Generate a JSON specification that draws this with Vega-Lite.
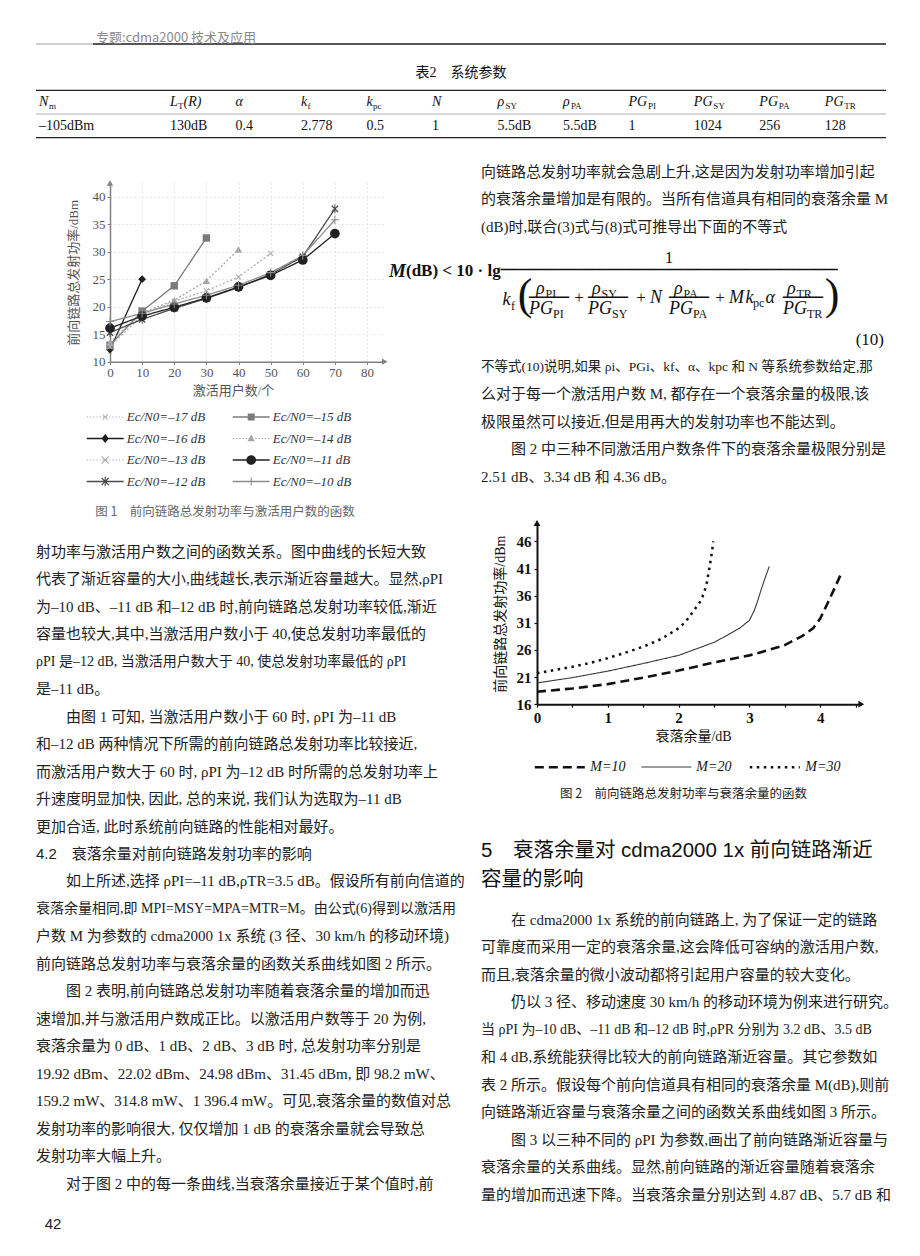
{
"$schema":"https://vega.github.io/schema/vega-lite/v6.json",
"background":"white",
"padding":{"left":35,"top":32,"right":0,"bottom":0},
"bounds":"flush",
"spacing":0,
"config":{
 "view":{"stroke":null},
 "axis":{"labelOverlap":false},
 "style":{
  "fi":{"font":"Liberation Serif","fontSize":18,"fontStyle":"italic","align":"left","baseline":"middle","color":"#111"},
  "fr":{"font":"Liberation Serif","fontSize":17,"align":"left","baseline":"middle","color":"#111"},
  "fc":{"font":"Liberation Serif","fontSize":17,"align":"center","baseline":"middle","color":"#111"},
  "fs":{"font":"Liberation Serif","fontSize":12,"align":"left","baseline":"middle","color":"#111"},
  "fbar":{"font":"DejaVu Sans Mono","align":"center","baseline":"middle","color":"#111"},
  "body":{"font":"Liberation Serif, Noto Sans CJK SC","fontSize":15,"align":"left","baseline":"middle","color":"#222"},
  "tight":{"font":"Liberation Serif, Noto Sans CJK SC","fontSize":14,"align":"left","baseline":"middle","color":"#222"},
  "tm":{"font":"Liberation Serif","fontSize":14,"fontStyle":"italic","align":"left","baseline":"middle","color":"#111"},
  "tv":{"font":"Liberation Serif","fontSize":14,"align":"left","baseline":"middle","color":"#111"},
  "ts":{"font":"Liberation Serif","fontSize":9,"align":"left","baseline":"middle","color":"#111","dy":4}
 }
},
"datasets":{
 "tbl":[
  {"col":"Nm","row":1,"main":"N","sub":"m"},
  {"col":"LT","row":1,"main":"L","sub":"T","tail":"(R)"},
  {"col":"alpha","row":1,"main":"α"},
  {"col":"kf","row":1,"main":"k","sub":"f"},
  {"col":"kpc","row":1,"main":"k","sub":"pc"},
  {"col":"N","row":1,"main":"N"},
  {"col":"rSY","row":1,"main":"ρ","sub":"SY"},
  {"col":"rPA","row":1,"main":"ρ","sub":"PA"},
  {"col":"PGPI","row":1,"main":"PG","sub":"PI"},
  {"col":"PGSY","row":1,"main":"PG","sub":"SY"},
  {"col":"PGPA","row":1,"main":"PG","sub":"PA"},
  {"col":"PGTR","row":1,"main":"PG","sub":"TR"},
  {"col":"Nm","row":2,"main":"–105dBm"},
  {"col":"LT","row":2,"main":"130dB"},
  {"col":"alpha","row":2,"main":"0.4"},
  {"col":"kf","row":2,"main":"2.778"},
  {"col":"kpc","row":2,"main":"0.5"},
  {"col":"N","row":2,"main":"1"},
  {"col":"rSY","row":2,"main":"5.5dB"},
  {"col":"rPA","row":2,"main":"5.5dB"},
  {"col":"PGPI","row":2,"main":"1"},
  {"col":"PGSY","row":2,"main":"1024"},
  {"col":"PGPA","row":2,"main":"256"},
  {"col":"PGTR","row":2,"main":"128"}
 ],
 "f1":[
  {"s":"Ec/N0=–17 dB","x":0,"y":11.8},
  {"s":"Ec/N0=–16 dB","x":0,"y":12.2},{"s":"Ec/N0=–16 dB","x":10,"y":25.0},
  {"s":"Ec/N0=–15 dB","x":0,"y":13.0},{"s":"Ec/N0=–15 dB","x":10,"y":19.2},{"s":"Ec/N0=–15 dB","x":20,"y":23.8},{"s":"Ec/N0=–15 dB","x":30,"y":32.5},
  {"s":"Ec/N0=–14 dB","x":0,"y":13.5},{"s":"Ec/N0=–14 dB","x":10,"y":18.9},{"s":"Ec/N0=–14 dB","x":20,"y":21.2},{"s":"Ec/N0=–14 dB","x":30,"y":24.7},{"s":"Ec/N0=–14 dB","x":40,"y":30.4},
  {"s":"Ec/N0=–13 dB","x":0,"y":12.7},{"s":"Ec/N0=–13 dB","x":10,"y":18.5},{"s":"Ec/N0=–13 dB","x":20,"y":21.0},{"s":"Ec/N0=–13 dB","x":30,"y":22.9},{"s":"Ec/N0=–13 dB","x":40,"y":25.4},{"s":"Ec/N0=–13 dB","x":50,"y":29.7},
  {"s":"Ec/N0=–12 dB","x":0,"y":15.3},{"s":"Ec/N0=–12 dB","x":10,"y":17.7},{"s":"Ec/N0=–12 dB","x":20,"y":19.7},{"s":"Ec/N0=–12 dB","x":30,"y":21.5},{"s":"Ec/N0=–12 dB","x":40,"y":23.5},{"s":"Ec/N0=–12 dB","x":50,"y":25.9},{"s":"Ec/N0=–12 dB","x":60,"y":29.1},{"s":"Ec/N0=–12 dB","x":70,"y":37.8},
  {"s":"Ec/N0=–11 dB","x":0,"y":16.1},{"s":"Ec/N0=–11 dB","x":10,"y":18.3},{"s":"Ec/N0=–11 dB","x":20,"y":19.9},{"s":"Ec/N0=–11 dB","x":30,"y":21.6},{"s":"Ec/N0=–11 dB","x":40,"y":23.6},{"s":"Ec/N0=–11 dB","x":50,"y":25.7},{"s":"Ec/N0=–11 dB","x":60,"y":28.5},{"s":"Ec/N0=–11 dB","x":70,"y":33.3},
  {"s":"Ec/N0=–10 dB","x":0,"y":17.3},{"s":"Ec/N0=–10 dB","x":10,"y":18.8},{"s":"Ec/N0=–10 dB","x":20,"y":20.5},{"s":"Ec/N0=–10 dB","x":30,"y":22.1},{"s":"Ec/N0=–10 dB","x":40,"y":23.9},{"s":"Ec/N0=–10 dB","x":50,"y":26.2},{"s":"Ec/N0=–10 dB","x":60,"y":29.3},{"s":"Ec/N0=–10 dB","x":70,"y":35.8}
 ],
 "f1s":[{"s":"Ec/N0=–17 dB"},{"s":"Ec/N0=–16 dB"},{"s":"Ec/N0=–13 dB"},{"s":"Ec/N0=–12 dB"},{"s":"Ec/N0=–15 dB"},{"s":"Ec/N0=–14 dB"},{"s":"Ec/N0=–11 dB"},{"s":"Ec/N0=–10 dB"}],
 "f2":[
  {"m":"M=10","x":0,"y":18.3},{"m":"M=10","x":0.5,"y":18.9},{"m":"M=10","x":1,"y":19.7},{"m":"M=10","x":1.5,"y":20.9},{"m":"M=10","x":2,"y":22.2},{"m":"M=10","x":2.5,"y":23.7},{"m":"M=10","x":3,"y":25.0},{"m":"M=10","x":3.25,"y":25.9},{"m":"M=10","x":3.5,"y":26.9},{"m":"M=10","x":3.75,"y":28.6},{"m":"M=10","x":3.9,"y":30.0},{"m":"M=10","x":4.0,"y":31.8},{"m":"M=10","x":4.1,"y":34.5},{"m":"M=10","x":4.2,"y":37.3},{"m":"M=10","x":4.29,"y":39.9},
  {"m":"M=20","x":0,"y":19.92},{"m":"M=20","x":0.5,"y":20.9},{"m":"M=20","x":1,"y":22.1},{"m":"M=20","x":1.5,"y":23.5},{"m":"M=20","x":2,"y":25.0},{"m":"M=20","x":2.5,"y":27.4},{"m":"M=20","x":2.7,"y":28.8},{"m":"M=20","x":2.86,"y":30.0},{"m":"M=20","x":3,"y":31.45},{"m":"M=20","x":3.07,"y":33.3},{"m":"M=20","x":3.12,"y":35.2},{"m":"M=20","x":3.17,"y":37.3},{"m":"M=20","x":3.22,"y":39.2},{"m":"M=20","x":3.28,"y":41.4},
  {"m":"M=30","x":0,"y":21.7},{"m":"M=30","x":0.25,"y":22.3},{"m":"M=30","x":0.5,"y":22.9},{"m":"M=30","x":0.75,"y":23.6},{"m":"M=30","x":1,"y":24.5},{"m":"M=30","x":1.25,"y":25.5},{"m":"M=30","x":1.5,"y":26.6},{"m":"M=30","x":1.75,"y":28.0},{"m":"M=30","x":2,"y":30.0},{"m":"M=30","x":2.1,"y":31.2},{"m":"M=30","x":2.2,"y":33.0},{"m":"M=30","x":2.3,"y":34.8},{"m":"M=30","x":2.36,"y":36.5},{"m":"M=30","x":2.4,"y":38.5},{"m":"M=30","x":2.44,"y":41.5},{"m":"M=30","x":2.47,"y":44.0},{"m":"M=30","x":2.49,"y":46.0}
 ]
},
"vconcat":[
 {"hconcat":[
   {"width":57,"height":12,"data":{"values":[{}]},"mark":{"type":"rule","color":"#888","strokeWidth":0.8},"encoding":{"y":{"datum":0,"type":"quantitative","scale":{"domain":[0,1]},"axis":null}}},
   {"width":793,"height":12,"data":{"values":[{"t":"专题:cdma2000 技术及应用"}]},"layer":[
     {"mark":{"type":"rule","color":"#555","strokeWidth":2.2},"encoding":{"y":{"datum":0,"type":"quantitative","scale":{"domain":[0,1]},"axis":null}}},
     {"mark":{"type":"text","align":"left","baseline":"middle","dx":3,"font":"Noto Sans CJK SC","fontSize":13,"color":"#8a8a8a"},"encoding":{"x":{"datum":0,"type":"quantitative","scale":{"domain":[0,1]},"axis":null},"text":{"field":"t"}}}
   ]}
 ],"spacing":0,"bounds":"flush"},
 {"width":1,"height":56,"data":{"values":[]},"mark":"point"},
 {"width":850,"height":52,
  "title":{"text":"表2　系统参数","font":"Liberation Serif, Noto Sans CJK SC","fontSize":14,"fontWeight":"normal","color":"#111","baseline":"middle","offset":1,"anchor":"middle"},
  "layer":[
   {"data":{"values":[{}]},"mark":{"type":"rule","color":"#222","strokeWidth":1.4},"encoding":{"y":{"datum":0.5,"type":"quantitative","scale":{"domain":[0.5,2.5],"reverse":true},"axis":null}}},
   {"data":{"values":[{}]},"mark":{"type":"rule","color":"#999","strokeWidth":0.8},"encoding":{"y":{"datum":1.5,"type":"quantitative","axis":null}}},
   {"data":{"values":[{}]},"mark":{"type":"rule","color":"#222","strokeWidth":1.4},"encoding":{"y":{"datum":2.5,"type":"quantitative","axis":null}}},
   {"data":{"name":"tbl"},
    "encoding":{
     "x":{"field":"col","type":"nominal","scale":{"type":"point","domain":["Nm","gap","LT","alpha","kf","kpc","N","rSY","rPA","PGPI","PGSY","PGPA","PGTR"],"padding":0.49,"align":0.047},"axis":null},
     "y":{"field":"row","type":"quantitative","axis":null}},
    "layer":[
     {"transform":[{"filter":"datum.row==1"}],"mark":{"type":"text","style":"tm"},"encoding":{"text":{"field":"main"}}},
     {"transform":[{"filter":"datum.row==2"}],"mark":{"type":"text","style":"tv"},"encoding":{"text":{"field":"main"}}},
     {"transform":[{"filter":"datum.row==1 && datum.sub && datum.main=='N'"}],"mark":{"type":"text","style":"ts","dx":10},"encoding":{"text":{"field":"sub"}}},
     {"transform":[{"filter":"datum.row==1 && datum.sub && datum.main=='L'"}],"mark":{"type":"text","style":"ts","dx":8},"encoding":{"text":{"field":"sub"}}},
     {"transform":[{"filter":"datum.row==1 && datum.sub && datum.main=='k'"}],"mark":{"type":"text","style":"ts","dx":6.5},"encoding":{"text":{"field":"sub"}}},
     {"transform":[{"filter":"datum.row==1 && datum.sub && datum.main=='ρ'"}],"mark":{"type":"text","style":"ts","dx":8},"encoding":{"text":{"field":"sub"}}},
     {"transform":[{"filter":"datum.row==1 && datum.sub && datum.main=='PG'"}],"mark":{"type":"text","style":"ts","dx":19.5},"encoding":{"text":{"field":"sub"}}},
     {"transform":[{"filter":"datum.row==1 && datum.tail"}],"mark":{"type":"text","style":"tm","dx":13.5},"encoding":{"text":{"field":"tail"}}}
    ]}
  ]},
 {"width":1,"height":18,"data":{"values":[]},"mark":"point"},
 {"hconcat":[
  {"vconcat":[
   {"width":1,"height":25,"data":{"values":[]},"mark":"point"},
   {"hconcat":[
     {"width":73.3,"height":1,"data":{"values":[]},"mark":"point"},
     {"width":274.7,"height":178.7,
      "resolve":{"scale":{"color":"independent","shape":"independent","strokeDash":"independent","size":"independent"}},
      "encoding":{
        "x":{"type":"quantitative","scale":{"domain":[0,85.5],"nice":false,"zero":false},"axis":{"values":[0,10,20,30,40,50,60,70,80],"labelOverlap":false,"title":"激活用户数/个","titleX":123,"labelFlush":false,"grid":true,"gridColor":"#c4c4c4","gridDash":[1,3],"gridWidth":0.8,"domainColor":"#808080","domainWidth":1.5,"tickColor":"#808080","tickSize":3,"labelFont":"Liberation Serif","labelFontSize":13,"labelColor":"#555","labelPadding":2,"titleFont":"Liberation Serif, Noto Sans CJK SC","titleFontSize":13,"titleFontWeight":"normal","titleColor":"#555","titlePadding":5}},
        "y":{"type":"quantitative","scale":{"domain":[10,42.5],"nice":false,"zero":false},"axis":{"values":[10,15,20,25,30,35,40],"labelOverlap":false,"title":"前向链路总发射功率/dBm","grid":true,"gridColor":"#c4c4c4","gridDash":[1,3],"gridWidth":0.8,"domainColor":"#808080","domainWidth":1.5,"tickColor":"#808080","tickSize":3,"labelFont":"Liberation Serif","labelFontSize":13,"labelColor":"#555","labelPadding":2,"titleFont":"Liberation Serif, Noto Sans CJK SC","titleFontSize":13,"titleFontWeight":"normal","titleColor":"#555","titlePadding":12}}
      },
      "layer":[
       {"data":{"name":"f1"},"mark":{"type":"line","strokeWidth":1.3},
        "encoding":{
         "x":{"field":"x"},
         "y":{"field":"y"},
         "color":{"field":"s","type":"nominal","scale":{"domain":["Ec/N0=–17 dB","Ec/N0=–16 dB","Ec/N0=–13 dB","Ec/N0=–12 dB","Ec/N0=–15 dB","Ec/N0=–14 dB","Ec/N0=–11 dB","Ec/N0=–10 dB"],"range":["#b4b4b4","#1e1e1e","#b0b0b0","#4a4a4a","#7a7a7a","#a6a6a6","#222222","#8c8c8c"]},"legend":null},
         "strokeDash":{"field":"s","type":"nominal","scale":{"domain":["Ec/N0=–17 dB","Ec/N0=–16 dB","Ec/N0=–13 dB","Ec/N0=–12 dB","Ec/N0=–15 dB","Ec/N0=–14 dB","Ec/N0=–11 dB","Ec/N0=–10 dB"],"range":[[2,2],[1,0],[2,2],[1,0],[1,0],[2,2],[1,0],[1,0]]},"legend":null}
        }},
       {"data":{"name":"f1"},"mark":{"type":"point","filled":true,"opacity":1},
        "encoding":{
         "x":{"field":"x"},
         "y":{"field":"y"},
         "color":{"field":"s","type":"nominal","scale":{"domain":["Ec/N0=–17 dB","Ec/N0=–16 dB","Ec/N0=–13 dB","Ec/N0=–12 dB","Ec/N0=–15 dB","Ec/N0=–14 dB","Ec/N0=–11 dB","Ec/N0=–10 dB"],"range":["#b4b4b4","#1e1e1e","#b0b0b0","#4a4a4a","#7a7a7a","#a6a6a6","#222222","#8c8c8c"]},"legend":null},
         "shape":{"field":"s","type":"nominal","scale":{"domain":["Ec/N0=–17 dB","Ec/N0=–16 dB","Ec/N0=–13 dB","Ec/N0=–12 dB","Ec/N0=–15 dB","Ec/N0=–14 dB","Ec/N0=–11 dB","Ec/N0=–10 dB"],"range":["M-0.8,-0.6L-0.6,-0.8L0.8,0.6L0.6,0.8Z M-0.8,0.6L0.6,-0.8L0.8,-0.6L-0.6,0.8Z","diamond","M-0.8,-0.6L-0.6,-0.8L0.8,0.6L0.6,0.8Z M-0.8,0.6L0.6,-0.8L0.8,-0.6L-0.6,0.8Z","M-0.8,-0.6L-0.6,-0.8L0.8,0.6L0.6,0.8Z M-0.8,0.6L0.6,-0.8L0.8,-0.6L-0.6,0.8Z M-0.1,-1H0.1V1H-0.1Z","square","triangle-up","circle","M-0.12,-1H0.12V1H-0.12Z M-1,-0.12H1V0.12H-1Z"]},"legend":null},
         "size":{"field":"s","type":"nominal","scale":{"type":"ordinal","domain":["Ec/N0=–17 dB","Ec/N0=–16 dB","Ec/N0=–13 dB","Ec/N0=–12 dB","Ec/N0=–15 dB","Ec/N0=–14 dB","Ec/N0=–11 dB","Ec/N0=–10 dB"],"range":[30,60,55,80,55,55,95,70]},"legend":null}
        }},
       {"data":{"values":[{}]},"mark":{"type":"point","shape":"triangle-up","filled":true,"size":40,"color":"#808080","opacity":1},"encoding":{"x":{"datum":0},"y":{"datum":42.5}}},
       {"data":{"values":[{}]},"mark":{"type":"point","shape":"triangle-right","filled":true,"size":40,"color":"#808080","opacity":1},"encoding":{"x":{"datum":85.5},"y":{"datum":10}}},
       {"data":{"name":"f1s"},"mark":{"type":"point","filled":true,"opacity":0},
        "encoding":{
         "x":{"datum":40},
         "y":{"datum":26},
         "color":{"field":"s","type":"nominal","scale":{"domain":["Ec/N0=–17 dB","Ec/N0=–16 dB","Ec/N0=–13 dB","Ec/N0=–12 dB","Ec/N0=–15 dB","Ec/N0=–14 dB","Ec/N0=–11 dB","Ec/N0=–10 dB"],"range":["#b4b4b4","#1e1e1e","#b0b0b0","#4a4a4a","#7a7a7a","#a6a6a6","#222222","#8c8c8c"]},
          "legend":{"orient":"none","legendX":-11.8,"legendY":227,"columns":2,"title":null,"symbolSize":196,"symbolStrokeWidth":0,"symbolOpacity":1,"labelFont":"Liberation Serif","labelFontStyle":"italic","labelFontSize":13,"labelColor":"#333","labelOffset":14.5,"columnPadding":27,"rowPadding":7.5,"padding":0}},
         "shape":{"field":"s","type":"nominal","scale":{"domain":["Ec/N0=–17 dB","Ec/N0=–16 dB","Ec/N0=–13 dB","Ec/N0=–12 dB","Ec/N0=–15 dB","Ec/N0=–14 dB","Ec/N0=–11 dB","Ec/N0=–10 dB"],"range":[
           "M-2.64,-0.08h0.2v0.16h-0.2Z M-2.18,-0.08h0.2v0.16h-0.2Z M-1.73,-0.08h0.2v0.16h-0.2Z M-1.27,-0.08h0.2v0.16h-0.2Z M-0.81,-0.08h0.2v0.16h-0.2Z M-0.36,-0.08h0.2v0.16h-0.2Z M0.1,-0.08h0.2v0.16h-0.2Z M0.56,-0.08h0.2v0.16h-0.2Z M1.02,-0.08h0.2v0.16h-0.2Z M1.47,-0.08h0.2v0.16h-0.2Z M1.93,-0.08h0.2v0.16h-0.2Z M2.39,-0.08h0.2v0.16h-0.2Z M-0.42,-0.32L-0.32,-0.42L0.42,0.32L0.32,0.42Z M-0.42,0.32L0.32,-0.42L0.42,-0.32L-0.32,0.42Z",
           "M-2.64,-0.09H2.64V0.09H-2.64Z M0,-0.63L0.53,0L0,0.63L-0.53,0Z",
           "M-2.64,-0.08h0.2v0.16h-0.2Z M-2.18,-0.08h0.2v0.16h-0.2Z M-1.73,-0.08h0.2v0.16h-0.2Z M-1.27,-0.08h0.2v0.16h-0.2Z M-0.81,-0.08h0.2v0.16h-0.2Z M-0.36,-0.08h0.2v0.16h-0.2Z M0.1,-0.08h0.2v0.16h-0.2Z M0.56,-0.08h0.2v0.16h-0.2Z M1.02,-0.08h0.2v0.16h-0.2Z M1.47,-0.08h0.2v0.16h-0.2Z M1.93,-0.08h0.2v0.16h-0.2Z M2.39,-0.08h0.2v0.16h-0.2Z M-0.58,-0.45L-0.45,-0.58L0.58,0.45L0.45,0.58Z M-0.58,0.45L0.45,-0.58L0.58,-0.45L-0.45,0.58Z",
           "M-2.64,-0.09H2.64V0.09H-2.64Z M-0.58,-0.45L-0.45,-0.58L0.58,0.45L0.45,0.58Z M-0.58,0.45L0.45,-0.58L0.58,-0.45L-0.45,0.58Z M-0.08,-0.69H0.08V0.69H-0.08Z",
           "M-2.64,-0.09H2.64V0.09H-2.64Z M-0.5,-0.5H0.5V0.5H-0.5Z",
           "M-2.64,-0.08h0.2v0.16h-0.2Z M-2.18,-0.08h0.2v0.16h-0.2Z M-1.73,-0.08h0.2v0.16h-0.2Z M-1.27,-0.08h0.2v0.16h-0.2Z M-0.81,-0.08h0.2v0.16h-0.2Z M-0.36,-0.08h0.2v0.16h-0.2Z M0.1,-0.08h0.2v0.16h-0.2Z M0.56,-0.08h0.2v0.16h-0.2Z M1.02,-0.08h0.2v0.16h-0.2Z M1.47,-0.08h0.2v0.16h-0.2Z M1.93,-0.08h0.2v0.16h-0.2Z M2.39,-0.08h0.2v0.16h-0.2Z M0,-0.58L0.53,0.4H-0.53Z",
           "M-2.64,-0.09H2.64V0.09H-2.64Z M-0.69,0A0.69,0.69,0,1,1,0.69,0A0.69,0.69,0,1,1,-0.69,0Z",
           "M-2.64,-0.09H2.64V0.09H-2.64Z M-0.08,-0.58H0.08V0.58H-0.08Z M-0.58,-0.09H0.58V0.09H-0.58Z"]},
          "legend":{"orient":"none","legendX":-11.8,"legendY":227,"columns":2,"title":null,"symbolSize":196,"symbolStrokeWidth":0,"symbolOpacity":1,"labelFont":"Liberation Serif","labelFontStyle":"italic","labelFontSize":13,"labelColor":"#333","labelOffset":14.5,"columnPadding":27,"rowPadding":7.5,"padding":0}}
        }}
      ]}
   ],"spacing":0,"bounds":"flush"},
   {"width":1,"height":317,"data":{"values":[]},"mark":"point"},
   {"width":378,"height":24,"data":{"values":[{"t":"图 1　前向链路总发射功率与激活用户数的函数"}]},"mark":{"type":"text","font":"Noto Sans CJK SC","fontSize":12.5,"color":"#666"},"encoding":{"text":{"field":"t"}}},
   {"width":1,"height":13.3,"data":{"values":[]},"mark":"point"},
   {"width":410,"height":659.5,
    "data":{"values":[
     {"line":1,"t":"射功率与激活用户数之间的函数关系。图中曲线的长短大致"},
     {"line":2,"t":"代表了渐近容量的大小,曲线越长,表示渐近容量越大。显然,ρPI"},
     {"line":3,"t":"为–10 dB、–11 dB 和–12 dB 时,前向链路总发射功率较低,渐近"},
     {"line":4,"t":"容量也较大,其中,当激活用户数小于 40,使总发射功率最低的"},
     {"line":5,"t":"ρPI 是–12 dB, 当激活用户数大于 40, 使总发射功率最低的 ρPI"},
     {"line":6,"t":"是–11 dB。"},
     {"line":7,"t":"由图 1 可知, 当激活用户数小于 60 时, ρPI 为–11 dB"},
     {"line":8,"t":"和–12 dB 两种情况下所需的前向链路总发射功率比较接近,"},
     {"line":9,"t":"而激活用户数大于 60 时, ρPI 为–12 dB 时所需的总发射功率上"},
     {"line":10,"t":"升速度明显加快, 因此, 总的来说, 我们认为选取为–11 dB"},
     {"line":11,"t":"更加合适, 此时系统前向链路的性能相对最好。"},
     {"line":12,"t":"4.2　衰落余量对前向链路发射功率的影响"},
     {"line":13,"t":"如上所述,选择 ρPI=–11 dB,ρTR=3.5 dB。假设所有前向信道的"},
     {"line":14,"t":"衰落余量相同,即 MPI=MSY=MPA=MTR=M。由公式(6)得到以激活用"},
     {"line":15,"t":"户数 M 为参数的 cdma2000 1x 系统 (3 径、30 km/h 的移动环境)"},
     {"line":16,"t":"前向链路总发射功率与衰落余量的函数关系曲线如图 2 所示。"},
     {"line":17,"t":"图 2 表明,前向链路总发射功率随着衰落余量的增加而迅"},
     {"line":18,"t":"速增加,并与激活用户数成正比。以激活用户数等于 20 为例,"},
     {"line":19,"t":"衰落余量为 0 dB、1 dB、2 dB、3 dB 时, 总发射功率分别是"},
     {"line":20,"t":"19.92 dBm、22.02 dBm、24.98 dBm、31.45 dBm, 即 98.2 mW、"},
     {"line":21,"t":"159.2 mW、314.8 mW、1 396.4 mW。可见,衰落余量的数值对总"},
     {"line":22,"t":"发射功率的影响很大, 仅仅增加 1 dB 的衰落余量就会导致总"},
     {"line":23,"t":"发射功率大幅上升。"},
     {"line":24,"t":"对于图 2 中的每一条曲线,当衰落余量接近于某个值时,前"}
    ]},
    "encoding":{
     "x":{"datum":0,"type":"quantitative","scale":{"domain":[0,1]},"axis":null},
     "y":{"field":"line","type":"ordinal","scale":{"type":"point","padding":0.5},"axis":null},
     "text":{"field":"t"}},
    "layer":[
     {"transform":[{"filter":"indexof([5,7,12,13,14,17,24], datum.line) < 0"}],"mark":{"type":"text","style":"body"}},
     {"transform":[{"filter":"indexof([7,13,17,24], datum.line) >= 0"}],"mark":{"type":"text","style":"body","dx":30}},
     {"transform":[{"filter":"datum.line == 5 || datum.line == 14"}],"mark":{"type":"text","style":"tight"}},
     {"transform":[{"filter":"datum.line == 12"}],"mark":{"type":"text","style":"body","font":"Liberation Sans, Noto Sans CJK SC"}}
    ]},
   {"width":1,"height":16.2,"data":{"values":[]},"mark":"point"},
   {"width":34,"height":18,"data":{"values":[{"t":"42"}]},"mark":{"type":"text","font":"Liberation Sans","fontSize":15,"color":"#222"},"encoding":{"text":{"field":"t"}}}
  ],"spacing":0,"bounds":"flush"},
  {"vconcat":[
   {"width":405,"height":82.5,
    "data":{"values":[
     {"line":1,"t":"向链路总发射功率就会急剧上升,这是因为发射功率增加引起"},
     {"line":2,"t":"的衰落余量增加是有限的。当所有信道具有相同的衰落余量 M"},
     {"line":3,"t":"(dB)时,联合(3)式与(8)式可推导出下面的不等式"}
    ]},
    "mark":{"type":"text","style":"body"},
    "encoding":{
     "x":{"datum":0,"type":"quantitative","scale":{"domain":[0,1]},"axis":null},
     "y":{"field":"line","type":"ordinal","scale":{"type":"point","padding":0.5},"axis":null},
     "text":{"field":"t"}}},
   {"width":405,"height":111.75,
    "layer":[
     {"data":{"values":[{"t":"M"}]},"mark":{"type":"text","style":"fi","fontSize":19,"fontWeight":"bold","dx":-294.5,"dy":-25.4},"encoding":{"text":{"field":"t"}}},
     {"data":{"values":[{"t":"(dB) < 10 · lg"}]},"mark":{"type":"text","style":"fr","fontWeight":"bold","dx":-277.5,"dy":-25.4},"encoding":{"text":{"field":"t"}}},
     {"data":{"values":[{"t":"1"}]},"mark":{"type":"text","style":"fc","dx":-14.5,"dy":-38.4},"encoding":{"text":{"field":"t"}}},
     {"data":{"values":[{"t":"───────────────────────────────────"}]},"mark":{"type":"text","style":"fbar","fontSize":16,"dx":-14.5,"dy":-26.4},"encoding":{"text":{"field":"t"}}},
     {"data":{"values":[{"t":"k"}]},"mark":{"type":"text","style":"fi","dx":-181,"dy":3.6},"encoding":{"text":{"field":"t"}}},
     {"data":{"values":[{"t":"f"}]},"mark":{"type":"text","style":"fs","dx":-172.5,"dy":9.6},"encoding":{"text":{"field":"t"}}},
     {"data":{"values":[{"t":"("}]},"mark":{"type":"text","style":"fc","fontSize":44,"dx":-158.5,"dy":-0.4},"encoding":{"text":{"field":"t"}}},
     {"data":{"values":[{"t":")"}]},"mark":{"type":"text","style":"fc","fontSize":44,"dx":148.5,"dy":-0.4},"encoding":{"text":{"field":"t"}}},
     {"data":{"values":[{"t":"ρ"}]},"mark":{"type":"text","style":"fi","dx":-147.5,"dy":-7.4},"encoding":{"text":{"field":"t"}}},
     {"data":{"values":[{"t":"PI"}]},"mark":{"type":"text","style":"fs","dx":-138,"dy":-2.4},"encoding":{"text":{"field":"t"}}},
     {"data":{"values":[{"t":"ρ"}]},"mark":{"type":"text","style":"fi","dx":-91.5,"dy":-7.4},"encoding":{"text":{"field":"t"}}},
     {"data":{"values":[{"t":"SY"}]},"mark":{"type":"text","style":"fs","dx":-82,"dy":-2.4},"encoding":{"text":{"field":"t"}}},
     {"data":{"values":[{"t":"ρ"}]},"mark":{"type":"text","style":"fi","dx":-9.5,"dy":-7.4},"encoding":{"text":{"field":"t"}}},
     {"data":{"values":[{"t":"PA"}]},"mark":{"type":"text","style":"fs","dx":0,"dy":-2.4},"encoding":{"text":{"field":"t"}}},
     {"data":{"values":[{"t":"ρ"}]},"mark":{"type":"text","style":"fi","dx":103.5,"dy":-7.4},"encoding":{"text":{"field":"t"}}},
     {"data":{"values":[{"t":"TR"}]},"mark":{"type":"text","style":"fs","dx":113,"dy":-2.4},"encoding":{"text":{"field":"t"}}},
     {"data":{"values":[{"t":"────"}]},"mark":{"type":"text","style":"fbar","fontSize":16.6,"dx":-134.5,"dy":1.1},"encoding":{"text":{"field":"t"}}},
     {"data":{"values":[{"t":"────"}]},"mark":{"type":"text","style":"fbar","fontSize":16.6,"dx":-75.5,"dy":1.1},"encoding":{"text":{"field":"t"}}},
     {"data":{"values":[{"t":"────"}]},"mark":{"type":"text","style":"fbar","fontSize":16.6,"dx":5.5,"dy":1.1},"encoding":{"text":{"field":"t"}}},
     {"data":{"values":[{"t":"────"}]},"mark":{"type":"text","style":"fbar","fontSize":16.6,"dx":119.5,"dy":1.1},"encoding":{"text":{"field":"t"}}},
     {"data":{"values":[{"t":"PG"}]},"mark":{"type":"text","style":"fi","dx":-154.5,"dy":12.6},"encoding":{"text":{"field":"t"}}},
     {"data":{"values":[{"t":"PI"}]},"mark":{"type":"text","style":"fs","dx":-130.5,"dy":17.6},"encoding":{"text":{"field":"t"}}},
     {"data":{"values":[{"t":"PG"}]},"mark":{"type":"text","style":"fi","dx":-95.5,"dy":12.6},"encoding":{"text":{"field":"t"}}},
     {"data":{"values":[{"t":"SY"}]},"mark":{"type":"text","style":"fs","dx":-71.5,"dy":17.6},"encoding":{"text":{"field":"t"}}},
     {"data":{"values":[{"t":"PG"}]},"mark":{"type":"text","style":"fi","dx":-14.5,"dy":12.6},"encoding":{"text":{"field":"t"}}},
     {"data":{"values":[{"t":"PA"}]},"mark":{"type":"text","style":"fs","dx":9.5,"dy":17.6},"encoding":{"text":{"field":"t"}}},
     {"data":{"values":[{"t":"PG"}]},"mark":{"type":"text","style":"fi","dx":99.5,"dy":12.6},"encoding":{"text":{"field":"t"}}},
     {"data":{"values":[{"t":"TR"}]},"mark":{"type":"text","style":"fs","dx":123.5,"dy":17.6},"encoding":{"text":{"field":"t"}}},
     {"data":{"values":[{"t":"+"}]},"mark":{"type":"text","style":"fc","dx":-104.5,"dy":1.6},"encoding":{"text":{"field":"t"}}},
     {"data":{"values":[{"t":"+"}]},"mark":{"type":"text","style":"fc","dx":-42.5,"dy":1.6},"encoding":{"text":{"field":"t"}}},
     {"data":{"values":[{"t":"N"}]},"mark":{"type":"text","style":"fi","dx":-33.5,"dy":1.6},"encoding":{"text":{"field":"t"}}},
     {"data":{"values":[{"t":"+"}]},"mark":{"type":"text","style":"fc","dx":36.5,"dy":1.6},"encoding":{"text":{"field":"t"}}},
     {"data":{"values":[{"t":"M"}]},"mark":{"type":"text","style":"fi","dx":45.5,"dy":1.6},"encoding":{"text":{"field":"t"}}},
     {"data":{"values":[{"t":"k"}]},"mark":{"type":"text","style":"fi","dx":62,"dy":1.6},"encoding":{"text":{"field":"t"}}},
     {"data":{"values":[{"t":"pc"}]},"mark":{"type":"text","style":"fs","dx":69.5,"dy":6.6},"encoding":{"text":{"field":"t"}}},
     {"data":{"values":[{"t":"α"}]},"mark":{"type":"text","style":"fi","dx":82,"dy":1.6},"encoding":{"text":{"field":"t"}}},
     {"data":{"values":[{"t":"(10)"}]},"mark":{"type":"text","style":"fr","align":"right","dx":200.5,"dy":43.6},"encoding":{"text":{"field":"t"}}}
    ]},
   {"width":405,"height":137.5,
    "data":{"values":[
     {"line":1,"t":"不等式(10)说明,如果 ρi、PGi、kf、α、kpc 和 N 等系统参数给定,那"},
     {"line":2,"t":"么对于每一个激活用户数 M, 都存在一个衰落余量的极限,该"},
     {"line":3,"t":"极限虽然可以接近,但是用再大的发射功率也不能达到。"},
     {"line":4,"t":"图 2 中三种不同激活用户数条件下的衰落余量极限分别是"},
     {"line":5,"t":"2.51 dB、3.34 dB 和 4.36 dB。"}
    ]},
    "encoding":{
     "x":{"datum":0,"type":"quantitative","scale":{"domain":[0,1]},"axis":null},
     "y":{"field":"line","type":"ordinal","scale":{"type":"point","padding":0.5},"axis":null},
     "text":{"field":"t"}},
    "layer":[
     {"transform":[{"filter":"datum.line != 1 && datum.line != 4"}],"mark":{"type":"text","style":"body"}},
     {"transform":[{"filter":"datum.line == 4"}],"mark":{"type":"text","style":"body","dx":30}},
     {"transform":[{"filter":"datum.line == 1"}],"mark":{"type":"text","style":"tight","fontSize":13.5}}
    ]},
   {"width":1,"height":31.75,"data":{"values":[]},"mark":"point"},
   {"hconcat":[
     {"width":55.7,"height":1,"data":{"values":[]},"mark":"point"},
     {"width":324.3,"height":181.2,
      "resolve":{"scale":{"color":"independent","strokeDash":"independent","strokeWidth":"independent"}},
      "encoding":{
        "x":{"type":"quantitative","scale":{"domain":[0,4.58],"nice":false,"zero":false},"axis":{"values":[0,0.5,1,1.5,2,2.5,3,3.5,4,4.5],"labelExpr":"datum.value % 1 == 0 ? format(datum.value, 'd') : ''","labelFlush":false,"labelOverlap":false,"title":"衰落余量/dB","titleX":156,"grid":false,"domainColor":"#111","domainWidth":2,"tickColor":"#111","tickSize":3,"tickWidth":1.2,"labelFont":"Liberation Serif","labelFontSize":15,"labelFontWeight":"bold","labelColor":"#111","labelPadding":3,"titleFont":"Liberation Serif, Noto Sans CJK SC","titleFontSize":14,"titleFontWeight":"normal","titleColor":"#111","titlePadding":4}},
        "y":{"type":"quantitative","scale":{"domain":[16,49.4],"nice":false,"zero":false},"axis":{"values":[16,21,26,31,36,41,46],"labelOverlap":false,"title":"前向链路总发射功率/dBm","grid":false,"domainColor":"#111","domainWidth":2,"tickColor":"#111","tickSize":3,"tickWidth":1.2,"labelFont":"Liberation Serif","labelFontSize":15,"labelFontWeight":"bold","labelColor":"#111","labelPadding":3,"titleFont":"Liberation Serif, Noto Sans CJK SC","titleFontSize":14,"titleFontWeight":"normal","titleColor":"#111","titlePadding":9}}
      },
      "layer":[
       {"data":{"name":"f2"},"mark":{"type":"line","strokeCap":"butt"},
        "encoding":{
         "x":{"field":"x"},
         "y":{"field":"y"},
         "color":{"field":"m","type":"nominal","scale":{"domain":["M=10","M=20","M=30"],"range":["#111111","#3a3a3a","#111111"]},
          "legend":{"orient":"none","legendX":-3.7,"legendY":217.5,"direction":"horizontal","title":null,"symbolType":"stroke","symbolSize":2500,"labelFont":"Liberation Serif","labelFontStyle":"italic","labelFontSize":14,"labelColor":"#111","labelOffset":4,"columnPadding":12,"padding":0}},
         "strokeDash":{"field":"m","type":"nominal","scale":{"domain":["M=10","M=20","M=30"],"range":[[9,5],[1,0],[2.5,4.5]]},
          "legend":{"orient":"none","legendX":-3.7,"legendY":217.5,"direction":"horizontal","title":null,"symbolType":"stroke","symbolSize":2500,"labelFont":"Liberation Serif","labelFontStyle":"italic","labelFontSize":14,"labelColor":"#111","labelOffset":4,"columnPadding":12,"padding":0}},
         "strokeWidth":{"field":"m","type":"nominal","scale":{"type":"ordinal","domain":["M=10","M=20","M=30"],"range":[2.6,1.1,2.5]},
          "legend":{"orient":"none","legendX":-3.7,"legendY":217.5,"direction":"horizontal","title":null,"symbolType":"stroke","symbolSize":2500,"labelFont":"Liberation Serif","labelFontStyle":"italic","labelFontSize":14,"labelColor":"#111","labelOffset":4,"columnPadding":12,"padding":0}}
        }},
       {"data":{"values":[{}]},"mark":{"type":"point","shape":"triangle-up","filled":true,"size":45,"color":"#111","opacity":1},"encoding":{"x":{"datum":0},"y":{"datum":49.4}}},
       {"data":{"values":[{}]},"mark":{"type":"point","shape":"triangle-right","filled":true,"size":45,"color":"#111","opacity":1},"encoding":{"x":{"datum":4.58},"y":{"datum":16}}}
      ]}
   ],"spacing":0,"bounds":"flush"},
   {"width":1,"height":258.5,"data":{"values":[]},"mark":"point"},
   {"width":405,"height":24,"data":{"values":[{"t":"图 2　前向链路总发射功率与衰落余量的函数"}]},"mark":{"type":"text","font":"Noto Sans CJK SC","fontSize":12.5,"color":"#222"},"encoding":{"text":{"field":"t"}}},
   {"width":1,"height":29.5,"data":{"values":[]},"mark":"point"},
   {"width":405,"height":58,
    "data":{"values":[
     {"line":1,"t":"5　衰落余量对 cdma2000 1x 前向链路渐近"},
     {"line":2,"t":"容量的影响"}
    ]},
    "mark":{"type":"text","align":"left","baseline":"middle","font":"Liberation Sans, Noto Sans CJK SC","fontSize":20.5,"color":"#111"},
    "encoding":{
     "x":{"datum":0,"type":"quantitative","scale":{"domain":[0,1]},"axis":null},
     "y":{"field":"line","type":"ordinal","scale":{"type":"point","padding":0.5},"axis":null},
     "text":{"field":"t"}}},
   {"width":1,"height":11.75,"data":{"values":[]},"mark":"point"},
   {"width":405,"height":302.5,
    "data":{"values":[
     {"line":1,"t":"在 cdma2000 1x 系统的前向链路上, 为了保证一定的链路"},
     {"line":2,"t":"可靠度而采用一定的衰落余量,这会降低可容纳的激活用户数,"},
     {"line":3,"t":"而且,衰落余量的微小波动都将引起用户容量的较大变化。"},
     {"line":4,"t":"仍以 3 径、移动速度 30 km/h 的移动环境为例来进行研究。"},
     {"line":5,"t":"当 ρPI 为–10 dB、–11 dB 和–12 dB 时,ρPR 分别为 3.2 dB、3.5 dB"},
     {"line":6,"t":"和 4 dB,系统能获得比较大的前向链路渐近容量。其它参数如"},
     {"line":7,"t":"表 2 所示。假设每个前向信道具有相同的衰落余量 M(dB),则前"},
     {"line":8,"t":"向链路渐近容量与衰落余量之间的函数关系曲线如图 3 所示。"},
     {"line":9,"t":"图 3 以三种不同的 ρPI 为参数,画出了前向链路渐近容量与"},
     {"line":10,"t":"衰落余量的关系曲线。显然,前向链路的渐近容量随着衰落余"},
     {"line":11,"t":"量的增加而迅速下降。当衰落余量分别达到 4.87 dB、5.7 dB 和"}
    ]},
    "encoding":{
     "x":{"datum":0,"type":"quantitative","scale":{"domain":[0,1]},"axis":null},
     "y":{"field":"line","type":"ordinal","scale":{"type":"point","padding":0.5},"axis":null},
     "text":{"field":"t"}},
    "layer":[
     {"transform":[{"filter":"indexof([1,4,5,9], datum.line) < 0"}],"mark":{"type":"text","style":"body"}},
     {"transform":[{"filter":"indexof([1,4,9], datum.line) >= 0"}],"mark":{"type":"text","style":"body","dx":30}},
     {"transform":[{"filter":"datum.line == 5"}],"mark":{"type":"text","style":"tight"}}
    ]}
  ],"spacing":0,"bounds":"flush"}
 ],"spacing":445,"bounds":"flush"}
]
}
